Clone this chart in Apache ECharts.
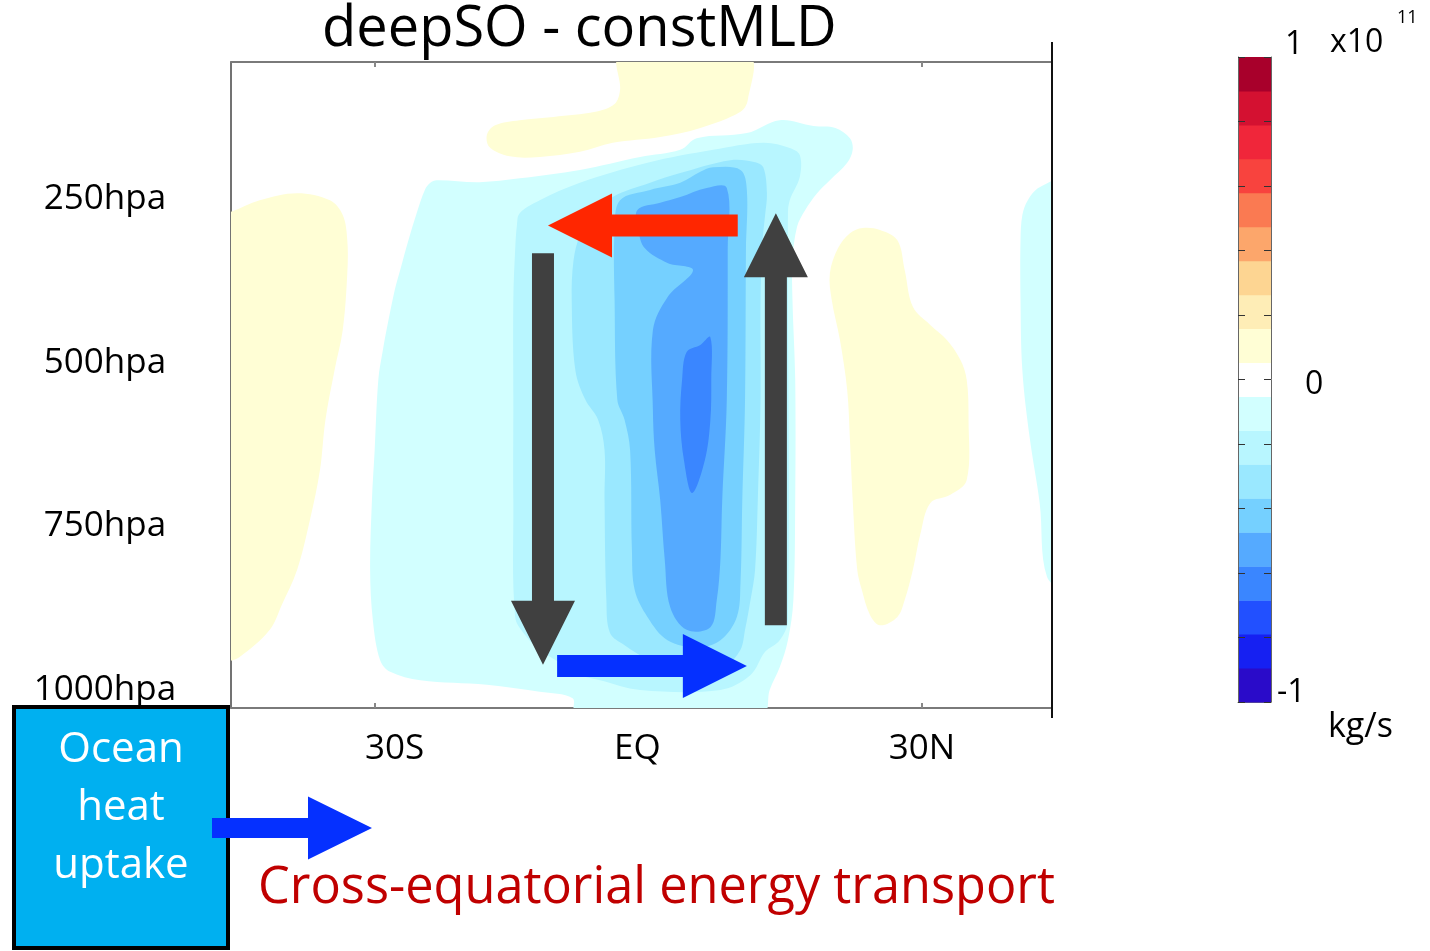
<!DOCTYPE html>
<html>
<head>
<meta charset="utf-8">
<script src="https://cdn.jsdelivr.net/npm/echarts@6/dist/echarts.min.js"></script>
<style>
  html, body { margin: 0; padding: 0; background: #ffffff; }
  #chart { width: 1430px; height: 951px; }
</style>
</head>
<body>
<div id="chart"></div>
<script>
// ---- axes ----
const latTicks = [-30, 0, 30];
const latTickNames = ['30S', 'EQ', '30N'];
const presTicks = [250, 500, 750, 1000];
const presTickNames = ['250hpa', '500hpa', '750hpa', '1000hpa'];
const scaleTicks = [-1, 0, 1];
const scaleTickNames = ['-1', '0', '1'];

// ---- mass streamfunction difference (x10^11 kg/s) ----
// filled-contour regions, outlines as [latitude, pressure hPa]
const posUpperBand = [[-3.1,-10],[11.0,-10],[10.9,59],[10.1,77],[5.7,102],[1.3,116],[-3.9,125],[-7.5,139],[-11.9,147],[-15.2,146],[-17.4,132],[-17.7,113],[-16.8,98],[-14.1,90],[-10.4,85],[-5.8,77],[-3.7,65],[-3.1,43]];
const posSouthFlank = [[-47,237],[-45.75,232],[-42.6,214],[-38.5,203],[-34.9,214],[-33.5,237],[-33.0,276],[-33.0,327],[-33.5,415],[-34.4,477],[-35.4,554],[-36.0,632],[-37.1,709],[-38.5,786],[-40.2,841],[-41.5,879],[-44.8,921],[-46.4,929],[-47,929]];
const posNorthFlank = [[23.5,257],[25.4,260],[27.3,276],[28.1,322],[29.0,379],[30.9,407],[32.7,430],[34.2,461],[34.9,492],[35.1,554],[34.9,647],[33.1,670],[30.9,683],[29.8,732],[29.0,786],[28.1,833],[27.3,859],[25.4,872],[24.3,856],[23.4,817],[22.9,786],[22.4,678],[22.1,585],[21.8,508],[21.0,430],[20.1,368],[19.9,327],[20.8,288],[22.1,265]];
const negOuter = [[-23.9,187],[-23.2,183],[-18.5,186],[-14.1,180],[-7.5,167],[-0.9,147],[3.5,136],[5.3,118],[10.8,110],[14.4,90],[18.1,99],[20.5,102],[22.1,118],[22.4,136],[21.8,156],[19.9,183],[18.5,203],[17.2,229],[16.3,255],[15.8,307],[15.8,368],[16.1,492],[16.1,678],[15.9,833],[15.3,895],[14.4,937],[13.3,972],[12.5,1010],[-8.0,1010],[-8.3,985],[-11.9,975],[-17.7,964],[-25.0,957],[-28.3,944],[-29.4,926],[-30.2,864],[-30.5,786],[-30.3,678],[-30.0,601],[-29.6,492],[-29.1,446],[-28.7,415],[-27.8,353],[-27.2,322],[-26.3,276],[-25.4,234],[-24.5,198]];
const negNorthEdge = [[46,183],[42.9,194],[41.6,214],[41.0,237],[40.8,276],[40.8,368],[41.0,477],[41.8,581],[42.9,683],[43.7,797],[46,817]];
const negLevel2 = [[-14.1,234],[-11.9,214],[-7.5,187],[-0.1,156],[7.1,136],[12.6,125],[15.5,133],[16.6,144],[16.6,178],[15.5,214],[15.3,237],[15.3,864],[14.4,895],[12.8,913],[11.2,949],[7.9,972],[-0.9,972],[-5.3,957],[-7.5,949],[-9.7,930],[-11.9,910],[-13.5,887],[-14.6,859],[-14.8,678],[-14.8,523],[-14.8,368],[-14.6,291],[-14.4,252]];
const negLevel3 = [[-3.9,209],[0.2,187],[3.5,172],[9.0,152],[11.7,155],[12.6,163],[13.0,203],[12.8,237],[12.5,280],[12.3,368],[12.3,523],[12.0,678],[11.7,786],[11.2,833],[10.6,879],[10.1,910],[8.4,938],[7.1,946],[3.5,952],[1.3,941],[-0.1,926],[-2.6,903],[-4.2,884],[-4.6,833],[-4.8,678],[-4.8,601],[-5.5,554],[-6.9,523],[-8.0,477],[-8.4,368],[-8.2,307],[-7.5,268],[-6.2,237]];
const negLevel4 = [[-3.1,214],[0.2,198],[3.5,187],[5.7,170],[7.1,163],[10.1,167],[10.8,198],[10.7,291],[10.6,523],[10.3,678],[10.1,807],[9.7,859],[7.9,895],[5.3,906],[2.1,895],[-0.1,859],[-1.5,817],[-1.8,755],[-2.0,601],[-2.6,554],[-3.4,523],[-3.7,368],[-3.7,260]];
const negLevel5 = [[-1.2,229],[1.3,218],[3.5,209],[6.4,195],[8.6,195],[8.7,291],[8.6,523],[8.1,678],[7.9,771],[7.5,833],[6.8,875],[4.2,879],[2.4,844],[1.8,771],[1.3,678],[0.7,601],[0.5,539],[0.5,415],[2.1,364],[4.9,322],[2.1,311],[-0.4,288],[-1.1,260]];
const negLevel6 = [[5.7,438],[6.8,426],[6.9,492],[6.8,554],[6.2,616],[4.8,667],[3.9,616],[3.5,554],[3.7,492],[4.2,449]];

const regionOutlines = [posUpperBand, posSouthFlank, posNorthFlank, negOuter, negNorthEdge,
                        negLevel2, negLevel3, negLevel4, negLevel5, negLevel6];
const regionValues = [0.1, 0.1, 0.1, -0.1, -0.1, -0.2, -0.3, -0.4, -0.5, -0.6];

// overturning-cell arrows: [lat0, p0, lat1, p1]
const cellArrows = [
  [9.8, 253, -11.0, 253],
  [-11.55, 296, -11.55, 933],
  [13.98, 872, 13.98, 234],
  [-10.0, 935, 10.8, 935]
];

// ---- styles ----
const FONT = '"Open Sans", "Noto Sans", sans-serif';
const scaleColors = [
  '#2A0BC9', '#1620F2', '#2250FF', '#3A86FF', '#55AAFF', '#75D0FF', '#9AE8FF', '#B8F6FF', '#D2FFFF',
  '#FFFFFF',
  '#FFFED5', '#FEEDB6', '#FDD592', '#FCA66B', '#FA7A52', '#F8433E', '#F0263A', '#D41131', '#A8002B'
];
const nClass = scaleColors.length;               // 19 classes over -1..1
const classEdges = scaleColors.map((c, i) => [-1 + 2 * i / nClass, -1 + 2 * (i + 1) / nClass]);
const arrowColors = ['#FF2600', '#404040', '#404040', '#0530FF'];

function classColor(v) {
  const k = Math.round(v * nClass / 2) + (nClass - 1) / 2;
  return scaleColors[Math.max(0, Math.min(nClass - 1, k))];
}

function arrowPoints(p0, p1, shaftW, headW, headL) {
  const dx = p1[0] - p0[0], dy = p1[1] - p0[1];
  const len = Math.hypot(dx, dy);
  const ux = dx / len, uy = dy / len, nx = -uy, ny = ux;
  const bx = p1[0] - ux * headL, by = p1[1] - uy * headL;
  const s = shaftW / 2, h = headW / 2;
  return [
    [p0[0] + nx * s, p0[1] + ny * s],
    [bx + nx * s, by + ny * s],
    [bx + nx * h, by + ny * h],
    [p1[0], p1[1]],
    [bx - nx * h, by - ny * h],
    [bx - nx * s, by - ny * s],
    [p0[0] - nx * s, p0[1] - ny * s]
  ];
}

const latRich = { a: { padding: [0, 0, 0, 40] }, b: { padding: [0, 22, 0, 0] }, c: {} };
const presRich = {
  p0: { padding: [0, 0, 49, 0] }, p1: { padding: [0, 0, 44, 0] },
  p2: { padding: [0, 0, 41, 0] }, p3: { padding: [0, 0, 36, 0] }
};
const scaleRich = {
  s0: { padding: [0, 0, 19, 0] }, s1: { padding: [11, 0, 0, 28] }, s2: { padding: [0, 0, 24, 8] }
};
[latRich, presRich, scaleRich].forEach(r => Object.keys(r).forEach(k => {
  r[k].fontFamily = FONT; r[k].color = '#000';
}));
Object.keys(latRich).forEach(k => latRich[k].fontSize = 35);
Object.keys(presRich).forEach(k => presRich[k].fontSize = 35);
Object.keys(scaleRich).forEach(k => scaleRich[k].fontSize = 32);

const chart = echarts.init(document.getElementById('chart'), null, { renderer: 'canvas' });

const option = {
  animation: false,
  backgroundColor: '#ffffff',
  title: {
    text: 'deepSO - constMLD',
    left: 317,
    top: -3,
    textStyle: { fontSize: 56, fontWeight: 'normal', fontFamily: FONT, color: '#000' }
  },
  grid: [
    { left: 231, top: 62, width: 821, height: 646 },
    { left: 1238, top: 57, width: 33, height: 645 }
  ],
  xAxis: [
    {
      gridIndex: 0, type: 'value', min: -45.75, max: 44.25, position: 'bottom',
      axisLine: { show: true, onZero: false, lineStyle: { color: '#7a7a7a', width: 2 } },
      axisTick: { show: true, inside: true, length: 5, customValues: latTicks, lineStyle: { color: '#888', width: 2 } },
      axisLabel: {
        show: true, customValues: latTicks, margin: 24, fontSize: 35, fontFamily: FONT, color: '#000',
        formatter: v => { const i = latTicks.indexOf(v); return '{' + 'abc'[i] + '|' + latTickNames[i] + '}'; },
        rich: latRich
      },
      splitLine: { show: false }
    },
    {
      gridIndex: 0, type: 'value', min: -45.75, max: 44.25, position: 'top',
      axisLine: { show: true, onZero: false, lineStyle: { color: '#7a7a7a', width: 2 } },
      axisTick: { show: true, inside: true, length: 5, customValues: latTicks, lineStyle: { color: '#888', width: 2 } },
      axisLabel: { show: false },
      splitLine: { show: false }
    },
    {
      gridIndex: 1, type: 'value', min: 0, max: 1,
      axisLine: { show: true, onZero: false, lineStyle: { color: '#777', width: 1 } },
      axisTick: { show: false }, axisLabel: { show: false }, splitLine: { show: false }
    }
  ],
  yAxis: [
    {
      gridIndex: 0, type: 'value', min: 0, max: 1000, inverse: true, position: 'left',
      axisLine: { show: true, onZero: false, lineStyle: { color: '#444', width: 1.5 } },
      axisTick: { show: false },
      axisLabel: {
        show: true, customValues: presTicks, align: 'center', margin: 126,
        fontSize: 35, fontFamily: FONT, color: '#000',
        formatter: v => { const i = presTicks.indexOf(v); return '{p' + i + '|' + presTickNames[i] + '}'; },
        rich: presRich
      },
      splitLine: { show: false }
    },
    {
      gridIndex: 1, type: 'value', min: -1, max: 1, interval: 0.2, position: 'left', z: 5,
      axisLine: { show: true, onZero: false, lineStyle: { color: '#666', width: 1 } },
      axisTick: { show: true, inside: true, length: 7, lineStyle: { color: '#333', width: 1 } },
      axisLabel: { show: false }, splitLine: { show: false }
    },
    {
      gridIndex: 1, type: 'value', min: -1, max: 1, interval: 0.2, position: 'right', z: 5,
      axisLine: { show: true, onZero: false, lineStyle: { color: '#666', width: 1 } },
      axisTick: { show: true, inside: true, length: 7, lineStyle: { color: '#333', width: 1 } },
      axisLabel: {
        show: true, customValues: scaleTicks, margin: 6, fontSize: 32, fontFamily: FONT, color: '#000',
        formatter: v => { const i = scaleTicks.indexOf(v); return '{s' + i + '|' + scaleTickNames[i] + '}'; },
        rich: scaleRich
      },
      splitLine: { show: false }
    }
  ],
  series: [
    {
      // filled contour regions
      type: 'custom', xAxisIndex: 0, yAxisIndex: 0, clip: true, silent: true,
      data: regionValues.map((v, i) => [v, i]),
      renderItem: (params, api) => {
        const i = params.dataIndex;
        const pts = regionOutlines[i].map(p => api.coord(p));
        return {
          type: 'polygon',
          shape: { points: pts, smooth: 0.35 },
          style: { fill: classColor(regionValues[i]), stroke: null }
        };
      }
    },
    {
      // colour scale bar
      type: 'custom', xAxisIndex: 2, yAxisIndex: 1, silent: true,
      data: classEdges.map(e => [e[0], e[1]]),
      renderItem: (params, api) => {
        const lo = api.coord([0, api.value(0)]);
        const hi = api.coord([1, api.value(1)]);
        return {
          type: 'rect',
          shape: { x: lo[0], y: hi[1], width: hi[0] - lo[0], height: lo[1] - hi[1] + 0.5 },
          style: { fill: scaleColors[params.dataIndex] }
        };
      }
    },
    {
      // overturning-cell arrows
      type: 'custom', xAxisIndex: 0, yAxisIndex: 0, clip: false, silent: true, z: 4,
      data: cellArrows.map(a => a.slice()),
      renderItem: (params, api) => {
        const a = cellArrows[params.dataIndex];
        const p0 = api.coord([a[0], a[1]]);
        const p1 = api.coord([a[2], a[3]]);
        return {
          type: 'polygon',
          shape: { points: arrowPoints(p0, p1, 22, 64, 64) },
          style: { fill: arrowColors[params.dataIndex] }
        };
      }
    }
  ],
  graphic: [
    { type: 'line', shape: { x1: 1052, y1: 42, x2: 1052, y2: 718 }, style: { stroke: '#111', lineWidth: 2 }, z: 10 },
    { type: 'text', x: 1330, y: 43, style: { text: 'x10', fontSize: 32, fontFamily: FONT, fill: '#000', align: 'left', verticalAlign: 'middle' } },
    { type: 'text', x: 1397, y: 18, style: { text: '11', fontSize: 18, fontFamily: FONT, fill: '#000', align: 'left', verticalAlign: 'middle' } },
    { type: 'text', x: 1328, y: 727, style: { text: 'kg/s', fontSize: 34, fontFamily: FONT, fill: '#000', align: 'left', verticalAlign: 'middle' } },
    { type: 'rect', shape: { x: 14, y: 707, width: 214, height: 241 }, style: { fill: '#00B0F0', stroke: '#000', lineWidth: 4 }, z: 20 },
    { type: 'text', x: 121, y: 721, z: 21, style: { text: 'Ocean\nheat\nuptake', fontSize: 42, lineHeight: 58, fontFamily: FONT, fill: '#ffffff', align: 'center', verticalAlign: 'top' } },
    { type: 'polygon', z: 22, shape: { points: arrowPoints([212, 828], [372, 828], 20, 63, 64) }, style: { fill: '#0530FF' } },
    { type: 'text', x: 258, y: 889, style: { text: 'Cross-equatorial energy transport', fontSize: 50.5, fontFamily: FONT, fill: '#C00000', align: 'left', verticalAlign: 'middle' } }
  ]
};

chart.setOption(option);
</script>
</body>
</html>
